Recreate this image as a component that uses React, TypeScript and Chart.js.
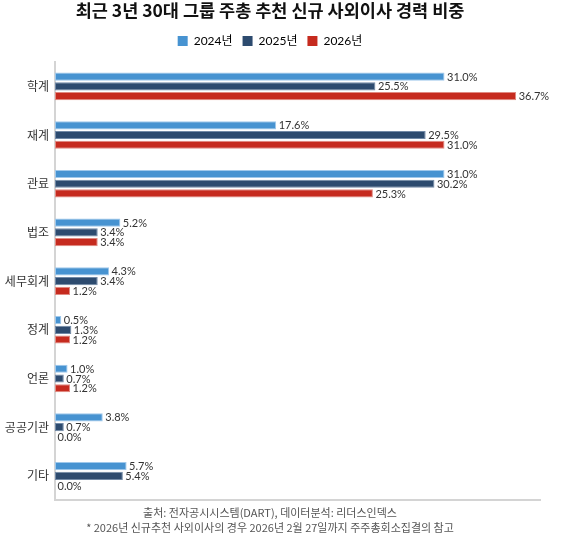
import React, { useEffect, useRef } from 'react';
import { Chart, registerables } from 'chart.js';

Chart.register(...registerables);

const categories = ['학계', '재계', '관료', '법조', '세무회계', '정계', '언론', '공공기관', '기타'];
const years = ['2024년', '2025년', '2026년'];
const values2024 = [31.0, 17.6, 31.0, 5.2, 4.3, 0.5, 1.0, 3.8, 5.7];
const values2025 = [25.5, 29.5, 30.2, 3.4, 3.4, 1.3, 0.7, 0.7, 5.4];
const values2026 = [36.7, 31.0, 25.3, 3.4, 1.2, 1.2, 1.2, 0.0, 0.0];
const footnotes = [
  '출처: 전자공시시스템(DART), 데이터분석: 리더스인덱스',
  '* 2026년 신규추천 사외이사의 경우 2026년 2월 27일까지 주주총회소집결의 참고',
];

const fills = ['#4793d1', '#2d4b6f', '#c62b1f'];
const edges = ['#9fc8eb', '#7189a6', '#e08a82'];

// 막대 끝에 값 표시
const valueLabels = {
  id: 'valueLabels',
  afterDatasetsDraw(chart: any) {
    const ctx = chart.ctx;
    ctx.save();
    ctx.font = '11px Lato, "Noto Sans CJK KR", sans-serif';
    ctx.fillStyle = '#333';
    ctx.textAlign = 'left';
    ctx.textBaseline = 'middle';
    chart.data.datasets.forEach((ds: any, i: number) => {
      const meta = chart.getDatasetMeta(i);
      meta.data.forEach((bar: any, j: number) => {
        ctx.fillText(ds.data[j].toFixed(1) + '%', bar.x + 2.5, bar.y + 0.5);
      });
    });
    ctx.restore();
  },
};

export default function App() {
  const chartRef = useRef<HTMLCanvasElement>(null);
  const chartInstance = useRef<Chart | null>(null);

  useEffect(() => {
    if (!chartRef.current) return;
    if (chartInstance.current) chartInstance.current.destroy();

    const series = [values2024, values2025, values2026];
    chartInstance.current = new Chart(chartRef.current, {
      type: 'bar',
      data: {
        labels: categories,
        datasets: years.map((y, i) => ({
          label: y,
          data: series[i],
          backgroundColor: fills[i],
          borderColor: edges[i],
          borderWidth: 1,
          borderSkipped: false,
          categoryPercentage: 0.6,
          barPercentage: 0.84,
        })),
      },
      options: {
        indexAxis: 'y',
        responsive: false,
        animation: false,
        layout: { padding: { left: 0, right: 40, top: 0, bottom: 0 } },
        scales: {
          x: {
            type: 'linear',
            min: 0,
            max: 38.6,
            grid: { display: false, drawTicks: false },
            ticks: { display: false },
            border: { display: true, color: '#d4d4d4', width: 2 },
            afterFit: (scale: any) => { scale.height = 0; },
          },
          // 범례와 차트 사이 여백용 빈 축
          gap: {
            type: 'linear',
            position: 'top',
            display: true,
            grid: { display: false, drawTicks: false },
            ticks: { display: false },
            border: { display: false },
            afterFit: (scale: any) => { scale.height = 5; },
          },
          y: {
            grid: { display: false, drawTicks: false },
            ticks: {
              color: '#333',
              padding: 6,
              font: { family: '"Noto Sans CJK KR", sans-serif', size: 12 },
            },
            border: { display: true, color: '#d4d4d4', width: 2 },
            afterFit: (scale: any) => { scale.width = 55; },
          },
        },
        plugins: {
          title: {
            display: true,
            text: '최근 3년 30대 그룹 주총 추천 신규 사외이사 경력 비중',
            color: '#111',
            font: { family: '"Noto Sans CJK KR", sans-serif', size: 17.5, weight: 'bold' },
            padding: { top: 0, bottom: 4 },
          },
          subtitle: {
            display: true,
            position: 'bottom',
            text: footnotes,
            color: '#555',
            font: { family: '"Noto Sans CJK KR", sans-serif', size: 11, lineHeight: 1.4 },
            padding: { top: 5, bottom: 0 },
          },
          legend: {
            display: true,
            labels: {
              boxWidth: 10,
              boxHeight: 10,
              padding: 10,
              color: '#666',
              font: { family: 'Lato, "Noto Sans CJK KR", sans-serif', size: 12 },
              generateLabels: (chart: any) =>
                chart.data.datasets.map((ds: any, i: number) => ({
                  text: ds.label,
                  fillStyle: fills[i],
                  strokeStyle: fills[i],
                  lineWidth: 0,
                  datasetIndex: i,
                  hidden: false,
                })),
            },
          },
          tooltip: { enabled: false },
        },
      },
      plugins: [valueLabels],
    });

    return () => {
      if (chartInstance.current) {
        chartInstance.current.destroy();
        chartInstance.current = null;
      }
    };
  }, []);

  return (
    <div style={{ position: 'fixed', left: 0, top: 0, width: 580, height: 536, background: '#fff' }}>
      <canvas ref={chartRef} width={580} height={536} style={{ width: 580, height: 536 }} />
    </div>
  );
}
